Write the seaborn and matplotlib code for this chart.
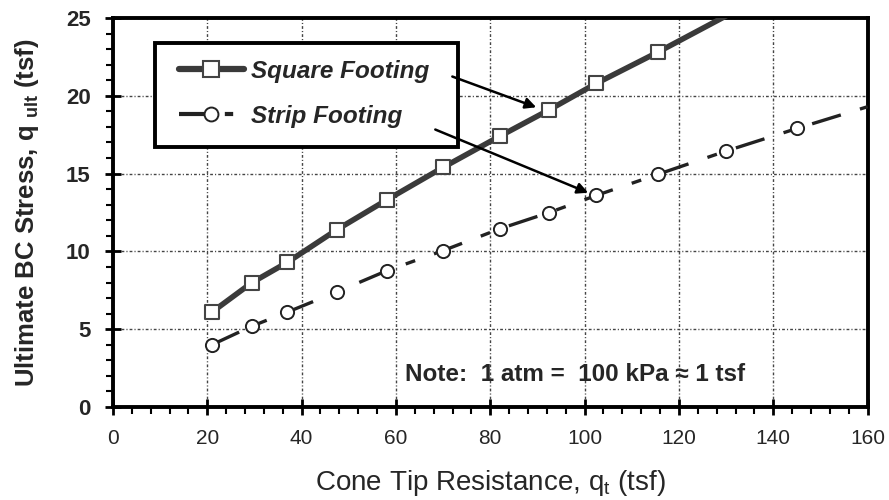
import matplotlib
matplotlib.use("Agg")
import matplotlib.pyplot as plt
from matplotlib.lines import Line2D
from matplotlib.patches import Rectangle
from matplotlib.ticker import MultipleLocator
import seaborn as sns
import pandas as pd

# ---- data ----
square_x = [21, 29.5, 37, 47.5, 58, 70, 82, 92.5, 102.5, 115.5]
square_y = [6.1, 8.0, 9.3, 11.4, 13.3, 15.4, 17.4, 19.1, 20.8, 22.8]
square_line_x = square_x + [131]
square_line_y = square_y + [25.3]

strip_x = [21, 29.5, 37, 47.5, 58, 70, 82, 92.5, 102.5, 115.5, 130, 145]
strip_y = [4.0, 5.2, 6.1, 7.4, 8.75, 10.05, 11.45, 12.5, 13.6, 14.95, 16.45, 17.9]
strip_line_x = strip_x + [160]
strip_line_y = strip_y + [19.3]

x_ticks = [0, 20, 40, 60, 80, 100, 120, 140, 160]
y_ticks = [0, 5, 10, 15, 20, 25]
labels = ["Square Footing", "Strip Footing"]

sns.set_theme(style="white")
plt.rcParams["font.family"] = ["Liberation Sans", "DejaVu Sans"]
plt.rcParams["mathtext.fontset"] = "custom"
plt.rcParams["mathtext.rm"] = "Liberation Sans"
plt.rcParams["mathtext.it"] = "Liberation Sans:italic"
plt.rcParams["mathtext.bf"] = "Liberation Sans:bold"

fig = plt.figure(figsize=(8.89, 5.0), dpi=100)
ax = fig.add_axes([0.127, 0.186, 0.849, 0.778])

sq_line = pd.DataFrame({"x": square_line_x, "y": square_line_y})
st_line = pd.DataFrame({"x": strip_line_x, "y": strip_line_y})
sq_pts = pd.DataFrame({"x": square_x, "y": square_y})
st_pts = pd.DataFrame({"x": strip_x, "y": strip_y})

sns.lineplot(data=sq_line, x="x", y="y", ax=ax, color="#3a3a3a", lw=4,
             estimator=None, sort=False, zorder=3)
sns.lineplot(data=st_line, x="x", y="y", ax=ax, color="#222222", lw=2.4,
             estimator=None, sort=False, zorder=3)
ax.lines[-1].set_dashes([9, 6, 3, 6])
sns.scatterplot(data=sq_pts, x="x", y="y", ax=ax, marker="s", s=110,
                facecolor="white", edgecolor="#444444", linewidth=1.5, zorder=4)
sns.scatterplot(data=st_pts, x="x", y="y", ax=ax, marker="o", s=90,
                facecolor="white", edgecolor="#222222", linewidth=1.4, zorder=4)

ax.set_xlim(0, 160)
ax.set_ylim(0, 25)
ax.set_xticks(x_ticks)
ax.set_yticks(y_ticks)
ax.xaxis.set_minor_locator(MultipleLocator(4))
ax.yaxis.set_minor_locator(MultipleLocator(1))
ax.set_xticklabels([str(v) for v in x_ticks], fontsize=15)
ax.set_yticklabels([str(v) for v in y_ticks], fontsize=16, fontweight="bold")
ax.tick_params(axis="both", which="major", direction="inout", length=12, width=2,
               color="black", bottom=True, left=True)
ax.tick_params(axis="x", which="major", pad=10)
ax.tick_params(axis="y", which="major", pad=10)
ax.tick_params(axis="both", which="minor", direction="out", length=5, width=1.5,
               color="black", bottom=True, left=True)
for s in ax.spines.values():
    s.set_linewidth(2.8)
    s.set_color("black")

ax.grid(True, which="major", color="#444444", lw=1.0, linestyle=(0, (2, 1.5, 0.8, 1.5)))
ax.set_axisbelow(True)

ax.set_xlabel("Cone Tip Resistance, q$_{\\rm t}$ (tsf)", fontsize=20)
ax.set_ylabel("Ultimate BC Stress, q $_{\\mathbf{ult}}$ (tsf)", fontsize=18.5,
              fontweight="bold")
ax.xaxis.set_label_coords(0.5, -0.158)
ax.yaxis.set_label_coords(-0.095, 0.5)

# legend box
ax.add_patch(Rectangle((0.0556, 0.668), 0.401, 0.268, transform=ax.transAxes,
                       facecolor="white", edgecolor="black", lw=2.8, zorder=5))
handles = [
    Line2D([], [], color="#3a3a3a", lw=4.5, marker="s", markersize=11,
           markerfacecolor="white", markeredgecolor="#444444", markeredgewidth=1.5),
    Line2D([], [], color="#222222", lw=3, marker="o", markersize=10,
           markerfacecolor="white", markeredgecolor="#222222", markeredgewidth=1.4,
           dashes=[7, 4, 2, 4]),
]
leg = ax.legend(handles, labels, loc="upper left", bbox_to_anchor=(0.087, 0.893),
                frameon=False,
                prop={"size": 17.5, "weight": "bold", "style": "italic"},
                handlelength=2.7, handletextpad=0.3, labelspacing=0.92,
                borderpad=0, borderaxespad=0)
leg.set_zorder(6)

ax.annotate("", xy=(90.3, 19.2), xytext=(71.4, 21.3),
            arrowprops=dict(arrowstyle="-|>", lw=1.8, color="black", mutation_scale=16),
            zorder=7)
ax.annotate("", xy=(101.3, 13.7), xytext=(67.8, 17.9),
            arrowprops=dict(arrowstyle="-|>", lw=1.8, color="black", mutation_scale=16),
            zorder=7)

ax.text(61.9, 2.1, "Note:  1 atm =  100 kPa \u2248 1 tsf", fontsize=17.5,
        fontweight="bold", va="center", ha="left")

fig.savefig("out.png", dpi=100)
